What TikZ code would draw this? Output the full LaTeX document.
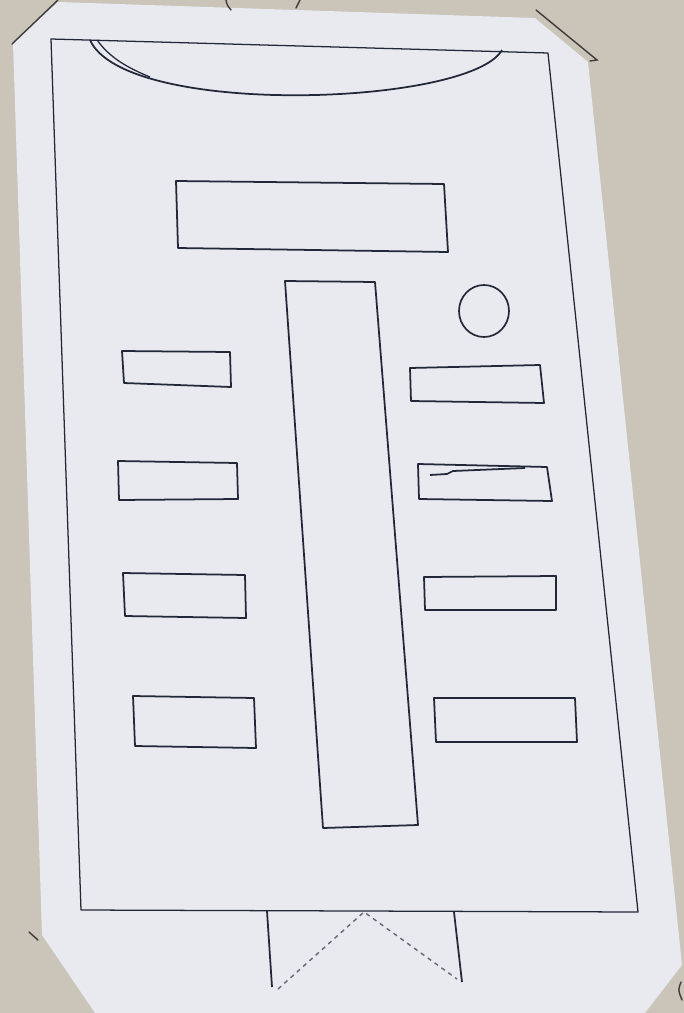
\documentclass[tikz,border=0pt]{standalone}
\usepackage{tikz}
\definecolor{deskbg}{HTML}{CAC4B9}
\definecolor{sheetfill}{HTML}{E8EAEF}
\definecolor{pen}{HTML}{232838}
\definecolor{pencil}{HTML}{3E3C3A}
\tikzset{
  sheet/.style={fill=sheetfill, draw=none},
  frame/.style={draw=pen, line width=0.9pt, line join=round},
  box/.style={draw=pen, line width=1.25pt, line join=round},
  blob/.style={draw=pen, line width=1.2pt},
  fold/.style={draw=pen!70, line width=1.0pt, dash pattern=on 3pt off 3pt},
  cutmark/.style={draw=pencil, line width=1.0pt, line cap=round},
}
\begin{document}
\begin{tikzpicture}[x=0.25mm,y=-0.25mm]
  \useasboundingbox (0,0) rectangle (684,1013);
  \fill[deskbg] (0,0) rectangle (684,1013);
  \fill[sheet] (13,43) -- (58,2) -- (535,18) -- (588,62) -- (682,965) -- (645,1013) -- (95,1013) -- (42,935) -- cycle;
  \draw[cutmark] (12,44) -- (58,0);
  \draw[cutmark] (536,10) -- (597,60) -- (590,61);
  \draw[cutmark] (29,932) -- (38,940);
  \draw[cutmark] (226,0) .. controls (227,5) .. (231,10);
  \draw[cutmark] (300,0) -- (296,8);
  \draw[cutmark] (681,982) .. controls (678,990) .. (682,1000);
  \draw[frame] (51,39) -- (548,53) -- (638,912) -- (81,910) -- cycle;
  \draw[box] (90,40) .. controls (125,118) and (470,106) .. (502,50);
  \draw[frame] (97,40) .. controls (110,58) and (128,68) .. (150,77);
  \draw[box] (176,181) -- (444,184) -- (448,252) -- (178,248) -- cycle;
  \draw[box] (285,281) -- (375,282) -- (418,825) -- (323,828) -- cycle;
  \draw[blob] (484,311) ellipse [x radius=25, y radius=26];
  \draw[box] (122,351) -- (230,352) -- (231,387) -- (124,383) -- cycle;
  \draw[box] (118,461) -- (237,463) -- (238,499) -- (119,500) -- cycle;
  \draw[box] (123,573) -- (245,575) -- (246,618) -- (125,616) -- cycle;
  \draw[box] (133,696) -- (254,698) -- (256,748) -- (135,746) -- cycle;
  \draw[box] (410,368) -- (540,365) -- (544,403) -- (411,401) -- cycle;
  \draw[box] (418,464) -- (547,467) -- (552,501) -- (419,499) -- cycle;
  \draw[box] (430,475) -- (447,474) -- (453,471) -- (525,468);
  \draw[box] (424,577) -- (556,576) -- (556,610) -- (425,610) -- cycle;
  \draw[box] (434,698) -- (575,698) -- (577,742) -- (436,742) -- cycle;
  \draw[box] (267,911) -- (272,987);
  \draw[box] (454,912) -- (462,982);
  \draw[fold] (278,989) -- (364,912) -- (457,979);
\end{tikzpicture}
\end{document}
